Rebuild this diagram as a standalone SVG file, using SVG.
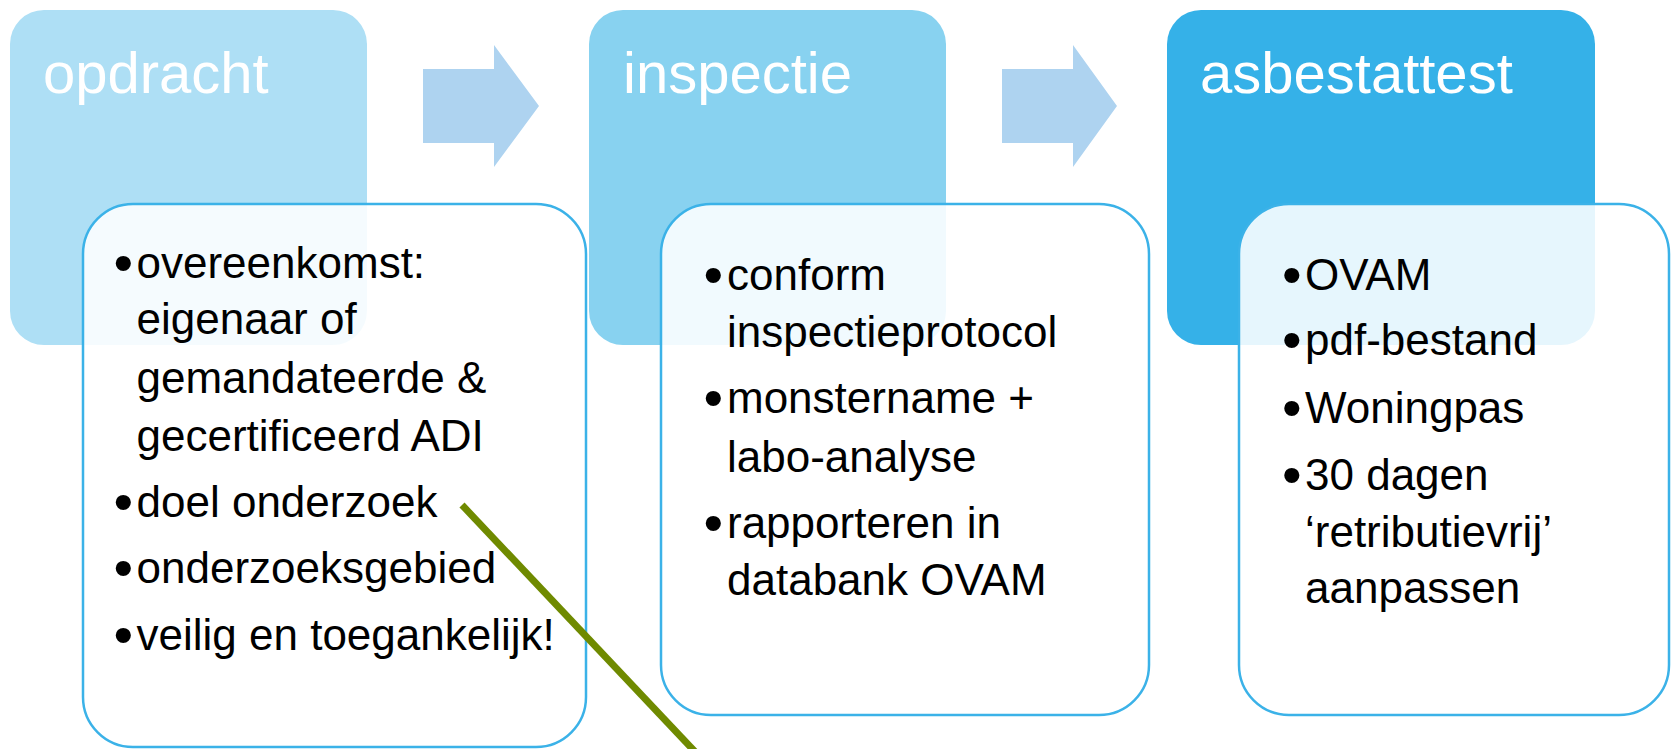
<svg xmlns="http://www.w3.org/2000/svg" width="1671" height="749" viewBox="0 0 1671 749">
  <style>
    .title { font-family: "Liberation Sans", Arial, sans-serif; font-size: 58px; fill: #ffffff; }
    .body { font-family: "Liberation Sans", Arial, sans-serif; font-size: 44px; fill: #000000; }
    .bul { font-size: 56px; }
    .card { fill: #ffffff; fill-opacity: 0.88; stroke: #3BB2E8; stroke-width: 2.5; }
    .arrow { fill: #AED3F0; }
  </style>
  <rect x="0" y="0" width="1671" height="749" fill="#ffffff"/>

  <g id="node-opdracht">
    <rect x="10" y="10" width="357" height="335" rx="34" ry="34" fill="#AEDFF5"/>
    <text class="title" x="43" y="93">opdracht</text>
  </g>
  <g id="node-opdracht-details">
    <rect class="card" x="83" y="204" width="503" height="543" rx="50" ry="50"/>
    <text class="body" x="113.5" y="278"><tspan class="bul" dy="4">•</tspan><tspan x="136.5" dy="-4">overeenkomst:</tspan></text>
    <text class="body" x="136.5" y="334">eigenaar of</text>
    <text class="body" x="136.5" y="393">gemandateerde &amp;</text>
    <text class="body" x="136.5" y="451">gecertificeerd ADI</text>
    <text class="body" x="113.5" y="517"><tspan class="bul" dy="4">•</tspan><tspan x="136.5" dy="-4">doel onderzoek</tspan></text>
    <text class="body" x="113.5" y="583"><tspan class="bul" dy="4">•</tspan><tspan x="136.5" dy="-4">onderzoeksgebied</tspan></text>
    <text class="body" x="113.5" y="650"><tspan class="bul" dy="4">•</tspan><tspan x="136.5" dy="-4">veilig en toegankelijk!</tspan></text>
  </g>

  <g id="node-inspectie">
    <rect x="589" y="10" width="357" height="335" rx="34" ry="34" fill="#88D2F0"/>
    <text class="title" x="623" y="93">inspectie</text>
  </g>
  <g id="node-inspectie-details">
    <rect class="card" x="661" y="204" width="488" height="511" rx="50" ry="50"/>
    <text class="body" x="703.5" y="290"><tspan class="bul" dy="4">•</tspan><tspan x="727" dy="-4">conform</tspan></text>
    <text class="body" x="727" y="347">inspectieprotocol</text>
    <text class="body" x="703.5" y="413"><tspan class="bul" dy="4">•</tspan><tspan x="727" dy="-4">monstername +</tspan></text>
    <text class="body" x="727" y="472">labo-analyse</text>
    <text class="body" x="703.5" y="538"><tspan class="bul" dy="4">•</tspan><tspan x="727" dy="-4">rapporteren in</tspan></text>
    <text class="body" x="727" y="595">databank OVAM</text>
  </g>

  <g id="node-asbestattest">
    <rect x="1167" y="10" width="428" height="335" rx="34" ry="34" fill="#35B1E8"/>
    <text class="title" x="1200" y="93">asbestattest</text>
  </g>
  <g id="node-asbestattest-details">
    <rect class="card" x="1239" y="204" width="430" height="511" rx="50" ry="50"/>
    <text class="body" x="1282" y="290"><tspan class="bul" dy="4">•</tspan><tspan x="1305" dy="-4">OVAM</tspan></text>
    <text class="body" x="1282" y="355"><tspan class="bul" dy="4">•</tspan><tspan x="1305" dy="-4">pdf-bestand</tspan></text>
    <text class="body" x="1282" y="423"><tspan class="bul" dy="4">•</tspan><tspan x="1305" dy="-4">Woningpas</tspan></text>
    <text class="body" x="1282" y="490"><tspan class="bul" dy="4">•</tspan><tspan x="1305" dy="-4">30 dagen</tspan></text>
    <text class="body" x="1305" y="547">‘retributievrij’</text>
    <text class="body" x="1305" y="603">aanpassen</text>
  </g>

  <g id="connectors">
    <polygon class="arrow" points="423,69 494,69 494,45 539,106 494,167 494,143 423,143"/>
    <polygon class="arrow" points="1002,69 1073,69 1073,45 1117,106 1073,167 1073,143 1002,143"/>
  </g>

  <g id="annotation-line">
    <line x1="462" y1="505" x2="700" y2="757" stroke="#6F8A00" stroke-width="7"/>
  </g>
</svg>
